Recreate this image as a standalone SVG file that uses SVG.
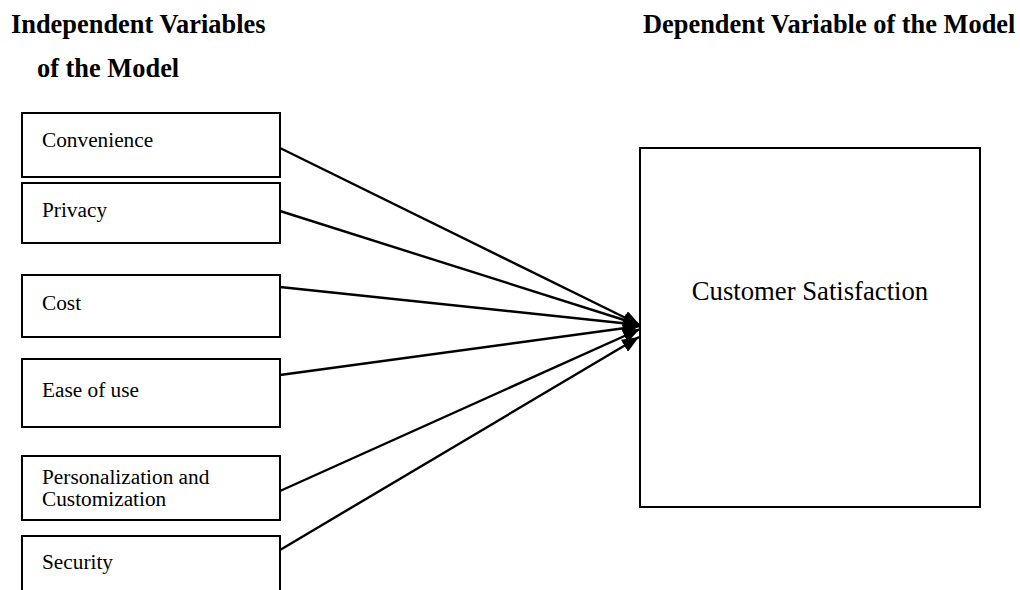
<svg xmlns="http://www.w3.org/2000/svg" width="1020" height="590" viewBox="0 0 1020 590">
  <style>
    .box { fill: #ffffff; stroke: #000000; stroke-width: 2; }
    .lbl { font-family: "Liberation Serif", "Times New Roman", serif; font-size: 21.3px; fill: #000000; }
    .big { font-family: "Liberation Serif", "Times New Roman", serif; font-size: 26.7px; fill: #000000; }
    .head { font-family: "Liberation Serif", "Times New Roman", serif; font-size: 26.4px; font-weight: bold; fill: #000000; }
    .edge { stroke: #000000; stroke-width: 2.4; fill: none; marker-end: url(#arrow); }
  </style>
  <defs>
    <!-- solid triangular arrowhead, sized in user units -->
    <marker id="arrow" markerUnits="userSpaceOnUse" markerWidth="18" markerHeight="14" refX="17" refY="7" orient="auto">
      <path d="M0,0 L17,7 L0,14 Z" fill="#000000"/>
    </marker>
  </defs>
  <rect width="1020" height="590" fill="#ffffff"/>

  <!-- headings -->
  <text class="head" x="11" y="33">Independent Variables</text>
  <text class="head" x="37" y="77">of the Model</text>
  <text class="head" x="643" y="33">Dependent Variable of the Model</text>

  <!-- independent variables -->
  <g id="convenience">
    <rect class="box" x="22" y="113" width="258" height="64"/>
    <text class="lbl" x="42" y="147">Convenience</text>
  </g>
  <g id="privacy">
    <rect class="box" x="22" y="183" width="258" height="60"/>
    <text class="lbl" x="42" y="217">Privacy</text>
  </g>
  <g id="cost">
    <rect class="box" x="22" y="275" width="258" height="62"/>
    <text class="lbl" x="42" y="310">Cost</text>
  </g>
  <g id="ease-of-use">
    <rect class="box" x="22" y="359" width="258" height="68"/>
    <text class="lbl" x="42" y="397">Ease of use</text>
  </g>
  <g id="personalization">
    <rect class="box" x="22" y="456" width="258" height="64"/>
    <text class="lbl" x="42" y="484">Personalization and</text>
    <text class="lbl" x="42" y="506">Customization</text>
  </g>
  <g id="security">
    <rect class="box" x="22" y="536" width="258" height="70"/>
    <text class="lbl" x="42" y="569">Security</text>
  </g>

  <!-- dependent variable -->
  <g id="customer-satisfaction">
    <rect class="box" x="640" y="148" width="340" height="359"/>
    <text class="big" x="810" y="300" text-anchor="middle">Customer Satisfaction</text>
  </g>

  <!-- connectors -->
  <g id="connectors">
    <line class="edge" x1="280" y1="148" x2="640" y2="325"/>
    <line class="edge" x1="280" y1="211" x2="640" y2="325"/>
    <line class="edge" x1="280" y1="287" x2="640" y2="325"/>
    <line class="edge" x1="280" y1="375" x2="640" y2="326"/>
    <line class="edge" x1="280" y1="491" x2="640" y2="329"/>
    <line class="edge" x1="280" y1="550" x2="639" y2="337"/>
  </g>
</svg>
